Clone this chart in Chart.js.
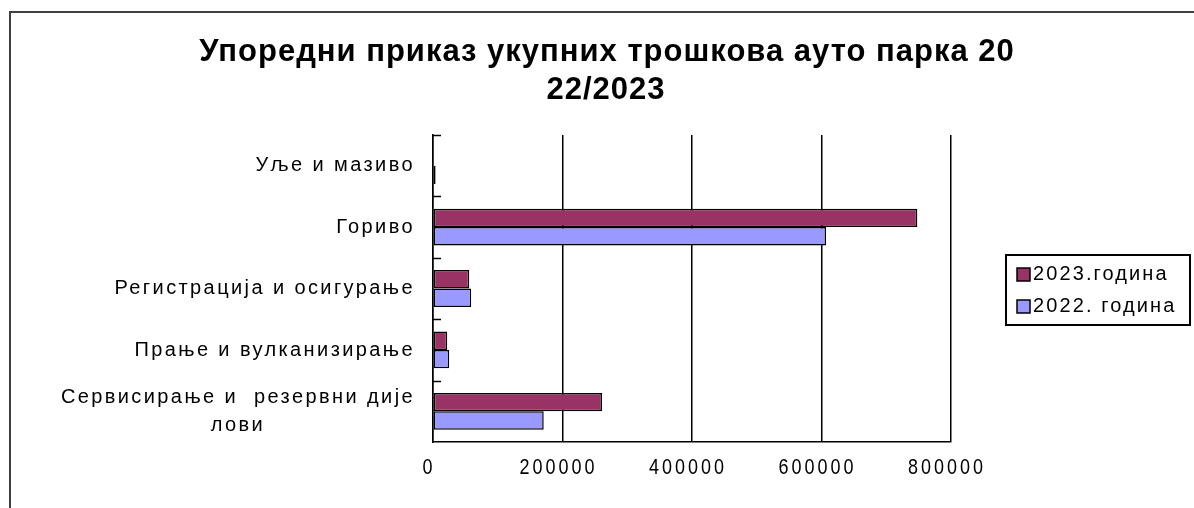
<!DOCTYPE html>
<html>
<head>
<meta charset="utf-8">
<script src="https://cdn.jsdelivr.net/npm/chart.js@4.4.1/dist/chart.umd.min.js"></script>
<style>
  body { margin: 0; background: #fff; }
  .wrap { position: relative; width: 1194px; height: 508px; overflow: hidden; }
  .frame { position: absolute; left: 9px; top: 11px; width: 1300px; height: 600px; border: 2px solid #404040; }
  canvas { position: absolute; left: 0; top: 0; }
</style>
</head>
<body>
<div class="wrap">
  <div class="frame"></div>
  <canvas id="costChart" width="1194" height="508"></canvas>
</div>
<script>
"use strict";

const titleLines = ["Упоредни приказ укупних трошкова ауто парка 20", "22/2023"];
const categories = [
  ["Уље и мазиво"],
  ["Гориво"],
  ["Регистрација и осигурање"],
  ["Прање и вулканизирање"],
  ["Сервисирање и  резервни дије", "лови"],
];
const costs2023 = [0, 748000, 56000, 22000, 261000];
const costs2022 = [4000, 607000, 59000, 25000, 171000];
const xTicks = [0, 200000, 400000, 600000, 800000];

const FONT = "'Liberation Sans', Arial, sans-serif";

function drawText(ctx, text, x, y, opts) {
  ctx.save();
  ctx.translate(x, y);
  ctx.scale(1, opts.sy || 1);
  ctx.font = opts.font;
  ctx.letterSpacing = (opts.spacing || 0) + "px";
  ctx.textAlign = opts.align || "left";
  ctx.textBaseline = "middle";
  ctx.fillStyle = "#000";
  ctx.fillText(text, 0, 0);
  ctx.restore();
}

function textWidth(ctx, text, font, spacing) {
  ctx.save();
  ctx.font = font;
  ctx.letterSpacing = spacing + "px";
  const w = ctx.measureText(text).width;
  ctx.restore();
  return w;
}

// draws title, axis labels, legend and inner tick marks like the excel chart
const excelLook = {
  id: "excelLook",
  afterDraw(chart) {
    const ctx = chart.ctx;
    const xs = chart.scales.x;
    const ys = chart.scales.y;

    // inward tick marks on category axis
    ctx.save();
    ctx.strokeStyle = "#000";
    ctx.lineWidth = 1.5;
    for (let i = 0; i < categories.length; i++) {
      const py = Math.round(ys.getPixelForValue(i - 0.5)) + 0.5;
      ctx.beginPath();
      ctx.moveTo(xs.left, py);
      ctx.lineTo(xs.left + 8, py);
      ctx.stroke();
    }
    ctx.restore();

    // category labels
    const labFont = "20px " + FONT;
    const labSpacing = 2.4;
    categories.forEach((lines, i) => {
      const cy = ys.getPixelForValue(i);
      const widths = lines.map((t) => textWidth(ctx, t, labFont, labSpacing));
      const blockW = Math.max(...widths);
      const cx = 415 - blockW / 2;
      const lh = 28;
      const y0 = cy - ((lines.length - 1) * lh) / 2;
      lines.forEach((t, k) => {
        drawText(ctx, t, cx, y0 + k * lh, { font: labFont, spacing: labSpacing, align: "center", sy: 1.05 });
      });
    });

    // value axis labels
    xTicks.forEach((v) => {
      drawText(ctx, String(v), xs.getPixelForValue(v) - 4, 468, { font: "18px " + FONT, spacing: 3, align: "center", sy: 1.2 });
    });

    // title
    drawText(ctx, titleLines[0], 607, 52, { font: "bold 31px " + FONT, spacing: 1, align: "center", sy: 1.0 });
    drawText(ctx, titleLines[1], 606, 90, { font: "bold 31px " + FONT, spacing: 1, align: "center", sy: 1.0 });

    // legend
    ctx.save();
    ctx.strokeStyle = "#000";
    ctx.lineWidth = 2;
    ctx.strokeRect(1006, 255, 184, 70);
    ctx.restore();
    chart.data.datasets.forEach((ds, i) => {
      const ry = 274.5 + i * 32;
      ctx.save();
      ctx.fillStyle = ds.backgroundColor;
      ctx.strokeStyle = "#000";
      ctx.lineWidth = 1.5;
      ctx.fillRect(1017, ry - 6.5, 13, 13);
      ctx.strokeRect(1017, ry - 6.5, 13, 13);
      ctx.restore();
      drawText(ctx, ds.label, 1033, ry, { font: "20px " + FONT, spacing: 2.1, sy: 1.05 });
    });
  },
};

const ctxCost = document.getElementById("costChart");

new Chart(ctxCost, {
  type: "bar",
  data: {
    labels: categories,
    datasets: [
      {
        label: "2023.година",
        data: costs2023,
        backgroundColor: "#993366",
        borderColor: "#000",
        borderWidth: 1.5,
        borderSkipped: false,
        barPercentage: 1,
        categoryPercentage: 0.6,
      },
      {
        label: "2022. година",
        data: costs2022,
        backgroundColor: "#9999FF",
        borderColor: "#000",
        borderWidth: 1.5,
        borderSkipped: false,
        barPercentage: 1,
        categoryPercentage: 0.6,
      },
    ],
  },
  options: {
    indexAxis: "y",
    responsive: false,
    animation: false,
    layout: {
      padding: { top: 135, right: 243, bottom: 0, left: 0 },
    },
    scales: {
      x: {
        min: 0,
        max: 800000,
        ticks: { display: false, stepSize: 200000 },
        grid: { color: "#000", lineWidth: 1.5, drawTicks: false },
        border: { color: "#000", width: 1.5 },
        afterFit(scale) {
          scale.height = 66;
        },
      },
      y: {
        ticks: { display: false },
        grid: { display: false },
        border: { color: "#000", width: 1.5 },
        afterFit(scale) {
          scale.width = 433;
        },
      },
    },
    plugins: {
      legend: { display: false },
      tooltip: { enabled: false },
    },
  },
  plugins: [excelLook],
});
</script>
</body>
</html>
